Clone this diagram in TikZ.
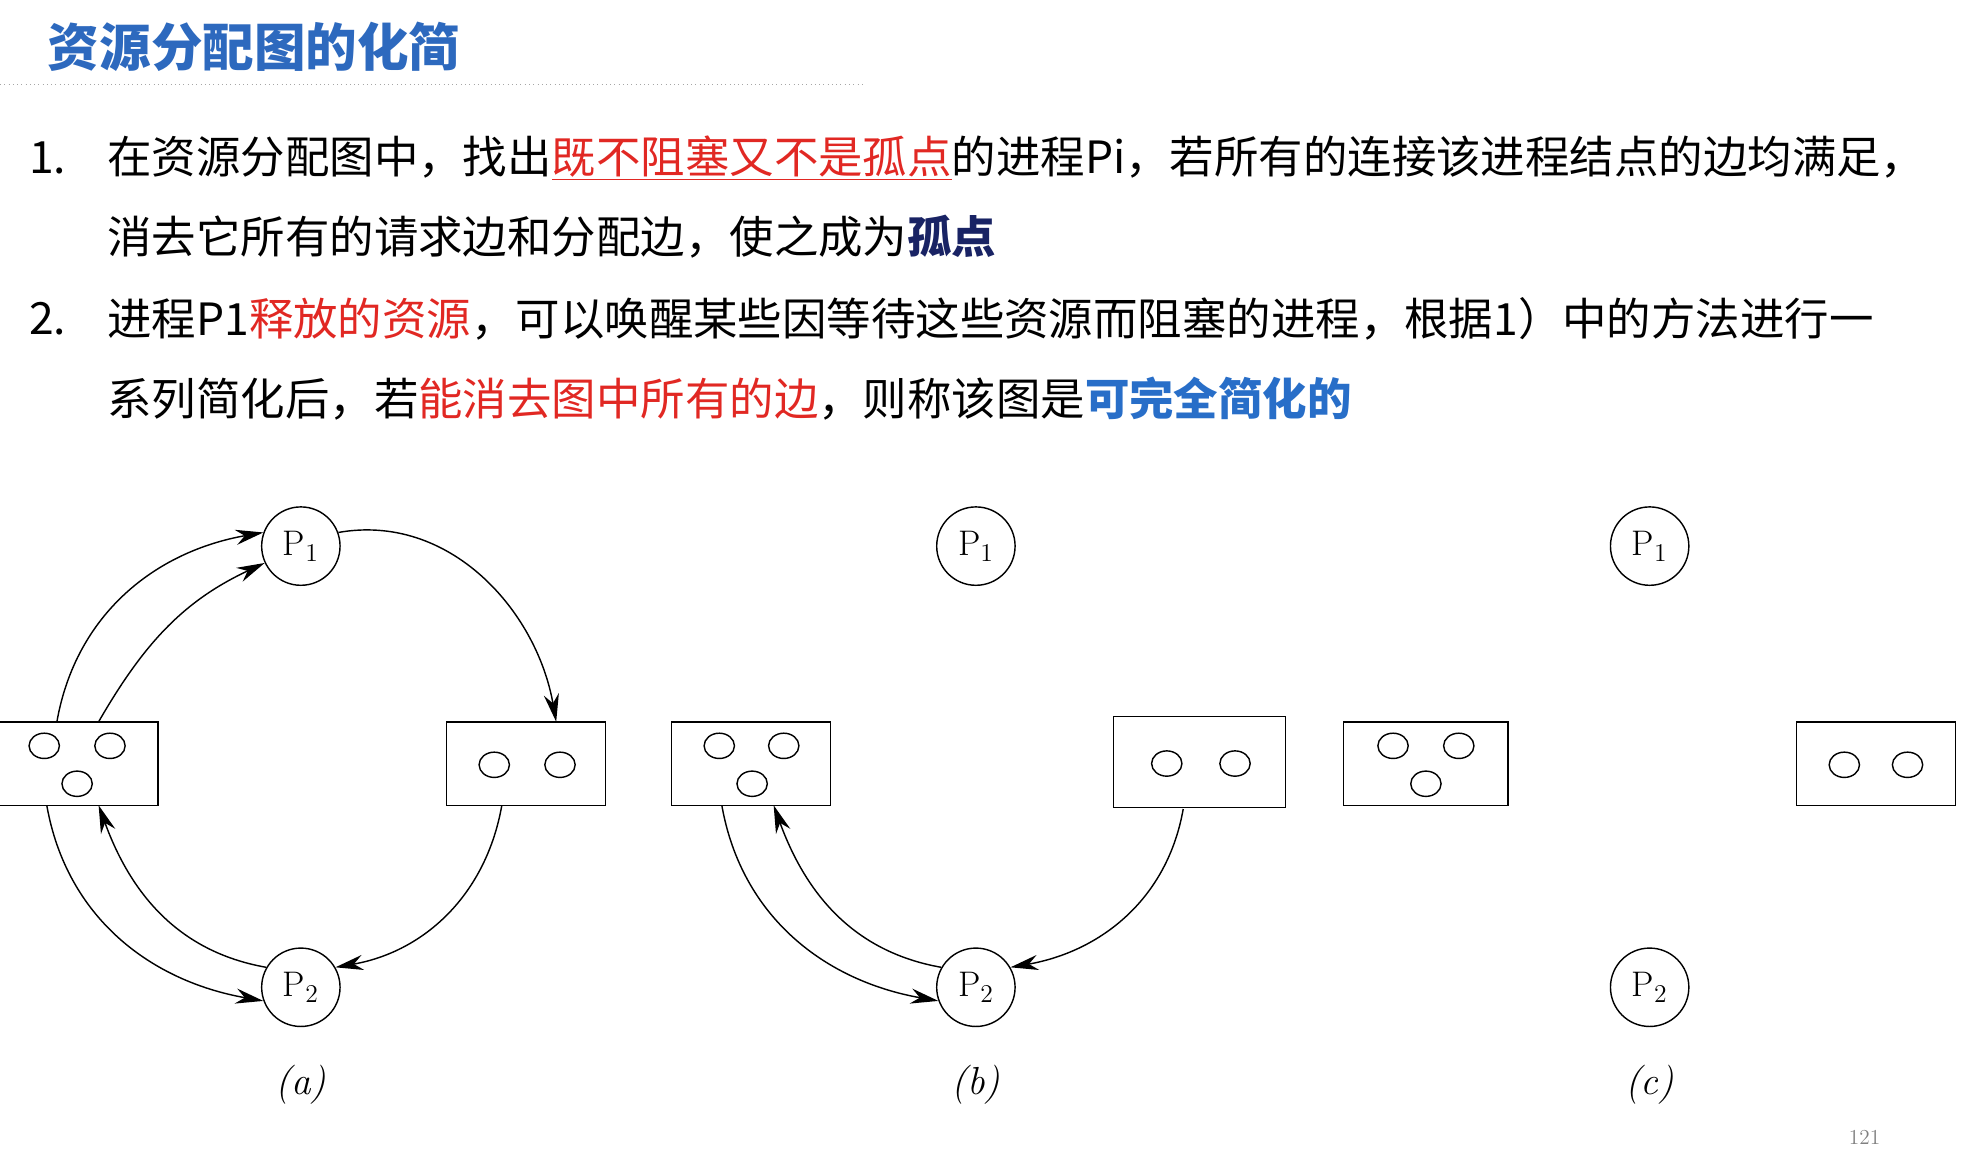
\documentclass[tikz,border=0pt]{standalone}
\usepackage{fontspec}
\newfontfamily\cjk{Noto Sans CJK SC}
\usetikzlibrary{arrows.meta}
\usetikzlibrary{shapes.geometric}
\definecolor{titleblue}{RGB}{45,105,190}
\definecolor{hlred}{RGB}{225,40,35}
\definecolor{hlnavy}{RGB}{25,35,100}
\definecolor{hlblue}{RGB}{40,110,200}
\tikzset{
    proc/.style={circle, draw, thick, minimum size=1.55cm, inner sep=0pt, font=\fontsize{20}{24}\selectfont},
    res/.style={draw, thick, minimum width=3.15cm, minimum height=1.65cm, inner sep=0pt},
    dot/.style={ellipse, draw, thick, minimum width=0.6cm, minimum height=0.5cm, inner sep=0pt},
    edge/.style={thick, -{Stealth[length=0.55cm, width=0.3cm]}},
    line/.style={anchor=west, font=\cjk\fontsize{25}{30}\selectfont},
    sub/.style={font=\fontsize{22}{26}\selectfont\itshape}
}
\begin{document}
\begin{tikzpicture}[x=0.025cm, y=-0.025cm]
\useasboundingbox (0,0) rectangle (1560,910);

% 标题
\node[anchor=west, text=titleblue, font=\cjk\bfseries\fontsize{29}{34}\selectfont] (title) at (33,37) {资源分配图的化简};
\draw[gray!70, dotted] (0,67) -- (685,67);

% 正文
\node[line] (n1) at (18,125) {1.};
\node[line] (t1) at (80,125) {在资源分配图中，找出\textcolor{hlred}{\underline{既不阻塞又不是孤点}}的进程Pi，若所有的连接该进程结点的边均满足，};
\node[line] (t2) at (80,187) {消去它所有的请求边和分配边，使之成为\textcolor{hlnavy}{\bfseries 孤点}};
\node[line] (n2) at (18,252) {2.};
\node[line] (t3) at (80,252) {进程P1\textcolor{hlred}{释放的资源}，可以唤醒某些因等待这些资源而阻塞的进程，根据1）中的方法进行一};
\node[line] (t4) at (80,315) {系列简化后，若\textcolor{hlred}{能消去图中所有的边}，则称该图是\textcolor{hlblue}{\bfseries 可完全简化的}};

% (a)
\node[proc] (Pa1) at (238,432) {P$_1$};
\node[proc] (Pa2) at (238,781) {P$_2$};
\node[res] (Ra1) at (62,604) {};
\node[res] (Ra2) at (416,604) {};
\foreach \x/\y in {35/590, 87/590, 61/620, 391/605, 443/605} \node[dot] at (\x,\y) {};
\draw[edge] (45,571) to[out=80, in=190] (Pa1.160);
\draw[edge] (78,571) to[out=60, in=205] (Pa1.205);
\draw[edge] (Pa1.20) to[out=10, in=100] (440,571);
\draw[edge] (397,637) to[out=-100, in=10] (Pa2.30);
\draw[edge] (37,637) to[out=-80, in=170] (Pa2.200);
\draw[edge] (Pa2.150) to[out=170, in=-70] (78,637);
\node[sub] (la) at (238,858) {(a)};

% (b)
\node[proc] (Pb1) at (772,432) {P$_1$};
\node[proc] (Pb2) at (772,781) {P$_2$};
\node[res] (Rb1) at (594,604) {};
\node[res, minimum width=3.4cm, minimum height=1.8cm] (Rb2) at (949,603) {};
\foreach \x/\y in {569/590, 620/590, 595/620, 923/604, 977/604} \node[dot] at (\x,\y) {};
\draw[edge] (571,637) to[out=-80, in=170] (Pb2.200);
\draw[edge] (Pb2.150) to[out=170, in=-70] (612,637);
\draw[edge] (936,640) to[out=-100, in=10] (Pb2.30);
\node[sub] (lb) at (772,858) {(b)};

% (c)
\node[proc] (Pc1) at (1305,432) {P$_1$};
\node[proc] (Pc2) at (1305,781) {P$_2$};
\node[res, minimum width=3.25cm] (Rc1) at (1128,604) {};
\node[res] (Rc2) at (1484,604) {};
\foreach \x/\y in {1102/590, 1154/590, 1128/620, 1459/605, 1509/605} \node[dot] at (\x,\y) {};
\node[sub] (lc) at (1305,858) {(c)};

\node[gray, font=\large] (pg) at (1475,900) {121};
\end{tikzpicture}
\end{document}
